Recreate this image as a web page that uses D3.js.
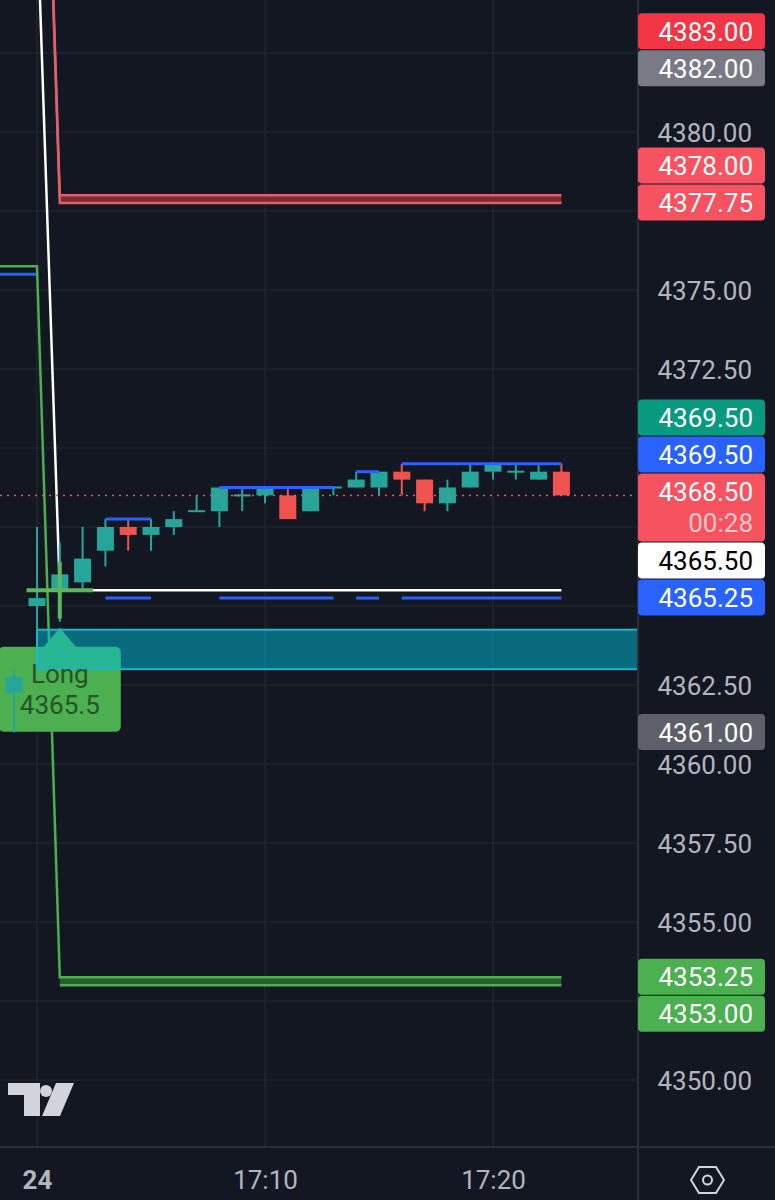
<!DOCTYPE html>
<html>
<head>
<meta charset="utf-8">
<script src="https://cdn.jsdelivr.net/npm/d3@7"></script>
<style>
html, body { margin: 0; padding: 0; background: #131722; }
svg { display: block; font-family: Roboto, "Noto Sans", sans-serif; }
</style>
</head>
<body>
<svg id="chart" width="775" height="1200"></svg>
<script>
// candles, 1 minute
const times  = ["16:59","17:00","17:01","17:02","17:03","17:04","17:05","17:06","17:07","17:08","17:09","17:10","17:11","17:12","17:13","17:14","17:15","17:16","17:17","17:18","17:19","17:20","17:21","17:22","17:23"];
const opens  = [4362.25,4365.0,4365.5,4365.75,4366.75,4367.5,4367.25,4367.5,4368.0,4368.0,4368.5,4368.5,4368.5,4368.0,4368.75,4368.75,4368.75,4369.25,4369.0,4368.25,4368.75,4369.25,4369.25,4369.0,4369.25];
const highs  = [4363.0,4367.5,4367.0,4367.5,4367.75,4367.75,4367.75,4368.0,4368.5,4368.75,4368.75,4368.75,4368.75,4368.75,4368.75,4369.25,4369.25,4369.5,4369.0,4369.0,4369.5,4369.5,4369.5,4369.5,4369.5];
const lows   = [4361.0,4364.25,4364.5,4365.5,4366.25,4366.75,4366.75,4367.25,4368.0,4367.5,4368.0,4368.25,4367.75,4368.0,4368.5,4368.75,4368.5,4368.5,4368.0,4368.0,4368.75,4369.0,4369.0,4369.0,4368.5];
const closes = [4362.75,4365.25,4366.0,4366.5,4367.5,4367.25,4367.5,4367.75,4368.0,4368.75,4368.5,4368.75,4367.75,4368.75,4368.75,4369.0,4369.25,4369.0,4368.25,4368.75,4369.25,4369.5,4369.25,4369.25,4368.5];

// position tool lines
const whiteTimes = ["17:00","17:01","17:23"];
const whiteVals  = [4387.0,4365.5,4365.5];
const redTimes   = ["17:00","17:01","17:23"];
const redUpper   = [4400.0,4378.0,4378.0];
const redLower   = [4399.75,4377.75,4377.75];
const greenTimes = ["16:50","17:00","17:01","17:23"];
const greenUpper = [4375.75,4375.75,4353.25,4353.25];
const greenLowTimes = ["17:01","17:23"];
const greenLower = [4353.0,4353.0];
const blueLeftTimes = ["16:50","17:00"];
const blueLeftVals  = [4375.5,4375.5];

// range high / low segments
const rangeStarts = ["17:03","17:08","17:14","17:16"];
const rangeEnds   = ["17:05","17:13","17:15","17:23"];
const rangeHighs  = [4367.75,4368.75,4369.25,4369.5];
const rangeLows   = [4365.25,4365.25,4365.25,4365.25];

// entry, zone, last price
const entryTime = "17:01", entryPrice = 4365.5, entrySide = "Long";
const zoneStart = "17:00", zoneTop = 4364.25, zoneBottom = 4363.0;
const lastPrice = 4368.5, countdown = "00:28";

// price axis tags, in placement order
const tagValues = [4382.00,4383.00,4377.75,4378.00,4365.25,4365.50,4368.50,4369.50,4369.50,4361.00,4353.25,4353.00];
const tagColors = ["#787b86","#f23645","#f7525f","#f7525f","#2962ff","#ffffff","#f7525f","#2962ff","#089981","#5d606b","#4caf50","#4caf50"];
const tagText   = ["#fff","#fff","#fff","#fff","#fff","#000","#fff","#fff","#fff","#fff","#fff","#fff"];
const tagSub    = ["","","","","","",countdown,"","","","",""];

const priceTicks = [4350,4352.5,4355,4357.5,4360,4362.5,4365,4367.5,4370,4372.5,4375,4377.5,4380,4382.5];
const timeTicks  = ["17:00","17:10","17:20"];
const timeLabels = ["24","17:10","17:20"];

const W = 775, H = 1200, plotW = 638, plotH = 1147;
const parse = d3.timeParse("%H:%M");
const x = d3.scaleTime().domain([parse("17:00"), parse("17:10")]).range([37, 265]);
const y = d3.scaleLinear().domain([4350, 4380]).range([1080, 132]);
const bodyW = 17;
const fs = 26;

const svg = d3.select("#chart");
svg.append("rect").attr("width", W).attr("height", H).attr("fill", "#131722");

svg.append("defs").append("clipPath").attr("id", "plot")
   .append("rect").attr("width", plotW).attr("height", plotH);

const plot = svg.append("g").attr("clip-path", "url(#plot)");

// grid
plot.append("g").selectAll("line").data(priceTicks).join("line")
    .attr("x1", 0).attr("x2", plotW)
    .attr("y1", d => y(d)).attr("y2", d => y(d))
    .attr("stroke", "#21252f").attr("stroke-width", 1.5);
plot.append("g").selectAll("line").data(timeTicks).join("line")
    .attr("x1", d => x(parse(d))).attr("x2", d => x(parse(d)))
    .attr("y1", 0).attr("y2", plotH)
    .attr("stroke", "#21252f").attr("stroke-width", 1.5);

const pts = (ts, vs) => ts.map((t, i) => [x(parse(t)), y(vs[i])]);
const line = d3.line();

// band fills
const bandArea = d3.area().x(d => x(parse(d.t))).y0(d => y(d.a)).y1(d => y(d.b));
plot.append("path")
    .attr("d", bandArea(redTimes.slice(1).map((t, i) => ({t, a: redUpper[i + 1], b: redLower[i + 1]}))))
    .attr("fill", "#7a2c34");
plot.append("path")
    .attr("d", bandArea(greenLowTimes.map((t, i) => ({t, a: greenUpper[i + 2], b: greenLower[i]}))))
    .attr("fill", "#2c5a31");

plot.append("path").attr("d", line(pts(blueLeftTimes, blueLeftVals)))
    .attr("fill", "none").attr("stroke", "#2962ff").attr("stroke-width", 3);
plot.append("path").attr("d", line(pts(greenTimes, greenUpper)))
    .attr("fill", "none").attr("stroke", "#4caf50").attr("stroke-width", 2.5);
plot.append("path").attr("d", line(pts(greenLowTimes, greenLower)))
    .attr("fill", "none").attr("stroke", "#4caf50").attr("stroke-width", 2.5);
plot.append("path").attr("d", line(pts(redTimes, redUpper)))
    .attr("fill", "none").attr("stroke", "#e0606a").attr("stroke-width", 2.5);
plot.append("path").attr("d", line(pts(redTimes, redLower)))
    .attr("fill", "none").attr("stroke", "#e0606a").attr("stroke-width", 2.5);
plot.append("path").attr("d", line(pts(whiteTimes, whiteVals)))
    .attr("fill", "none").attr("stroke", "#ffffff").attr("stroke-width", 2.5);

// Long label body
const ex = x(parse(entryTime));
const labTop = y(zoneTop) + 17;
const lab = plot.append("g");
lab.append("path")
   .attr("d", `M${ex},${y(zoneTop) - 2}L${ex + 17},${labTop + 1}L${ex - 17},${labTop + 1}Z`)
   .attr("fill", "#4caf50");
lab.append("rect").attr("x", ex - 61).attr("y", labTop).attr("width", 122).attr("height", 85)
   .attr("rx", 5).attr("fill", "#4caf50");

// zone box
const zx = x(parse(zoneStart));
plot.append("rect").attr("x", zx).attr("y", y(zoneTop)).attr("width", plotW - zx)
    .attr("height", y(zoneBottom) - y(zoneTop))
    .attr("fill", "rgba(0,190,215,0.5)").attr("stroke", "#1fb5c8").attr("stroke-width", 2);

// Long label text, above the zone
plot.append("text").attr("x", ex).attr("y", labTop + 27).attr("text-anchor", "middle")
   .attr("dominant-baseline", "central").attr("font-size", fs).attr("fill", "#245428")
   .text(entrySide);
plot.append("text").attr("x", ex).attr("y", labTop + 58).attr("text-anchor", "middle")
   .attr("dominant-baseline", "central").attr("font-size", fs).attr("fill", "#245428")
   .text(entryPrice.toFixed(1));

// candles
const bars = times.map((t, i) => ({t: parse(t), o: opens[i], h: highs[i], l: lows[i], c: closes[i]}));
const col = d => d.c >= d.o ? "#26a69a" : "#ef5350";
const cg = plot.append("g").selectAll("g").data(bars).join("g");
cg.append("line")
  .attr("x1", d => x(d.t)).attr("x2", d => x(d.t))
  .attr("y1", d => y(d.h)).attr("y2", d => y(d.l))
  .attr("stroke", col).attr("stroke-width", 2);
cg.append("rect")
  .attr("x", d => x(d.t) - bodyW / 2).attr("width", bodyW)
  .attr("y", d => y(Math.max(d.o, d.c)) - (d.o === d.c ? 1 : 0))
  .attr("height", d => Math.max(2, Math.abs(y(d.o) - y(d.c))))
  .attr("fill", col);

// range high/low segments
const rg = plot.append("g");
rangeStarts.forEach((s, i) => {
  const x1 = x(parse(s)), x2 = x(parse(rangeEnds[i]));
  rg.append("line").attr("x1", x1).attr("x2", x2).attr("y1", y(rangeHighs[i])).attr("y2", y(rangeHighs[i]))
    .attr("stroke", "#2962ff").attr("stroke-width", 3);
  rg.append("line").attr("x1", x1).attr("x2", x2).attr("y1", y(rangeLows[i])).attr("y2", y(rangeLows[i]))
    .attr("stroke", "#2962ff").attr("stroke-width", 3);
});

// entry marker
const step = x(parse("17:01")) - x(parse("17:00"));
plot.append("line").attr("x1", ex - step - bodyW / 2 - 2).attr("x2", ex + step + bodyW / 2 + 2)
    .attr("y1", y(entryPrice)).attr("y2", y(entryPrice))
    .attr("stroke", "#5cb85c").attr("stroke-width", 4);
plot.append("line").attr("x1", ex).attr("x2", ex)
    .attr("y1", y(entryPrice + 0.9)).attr("y2", y(entryPrice - 0.9))
    .attr("stroke", "#5cb85c").attr("stroke-width", 4);

// last price dotted
plot.append("line").attr("x1", 0).attr("x2", plotW).attr("y1", y(lastPrice)).attr("y2", y(lastPrice))
    .attr("stroke", "#f7525f").attr("stroke-width", 1.5).attr("stroke-dasharray", "2,5");

// logo
const logo = svg.append("g").attr("fill", "#d1d4dc");
logo.append("path").attr("d", "M8,1083H40V1116H24V1095H8Z");
logo.append("circle").attr("cx", 46).attr("cy", 1091).attr("r", 6);
logo.append("path").attr("d", "M56,1083H74L60,1116H42Z");

// separators
svg.append("line").attr("x1", plotW).attr("x2", plotW).attr("y1", 0).attr("y2", H)
   .attr("stroke", "#2a2e39").attr("stroke-width", 2);
svg.append("line").attr("x1", 0).attr("x2", W).attr("y1", plotH).attr("y2", plotH)
   .attr("stroke", "#2a2e39").attr("stroke-width", 2);

// price tags: place in order, push off earlier ones
const tagH = 37;
const placed = [];
const conflict = (t, h) => placed.find(p => t < p.bottom && t + h > p.top);
const tags = tagValues.map((v, i) => {
  const h = tagSub[i] ? 69 : tagH;
  const want = y(v) - tagH / 2;
  let up = want, c;
  while ((c = conflict(up, h))) up = c.top - h;
  let down = want;
  while ((c = conflict(down, h))) down = c.bottom;
  const top = Math.abs(up - want) <= Math.abs(down - want) ? up : down;
  placed.push({top, bottom: top + h});
  return {v, top, h, color: tagColors[i], text: tagText[i], sub: tagSub[i]};
});

// price axis ticks
const axisG = svg.append("g").attr("transform", `translate(${plotW},0)`)
  .call(d3.axisRight(y).tickValues(priceTicks).tickFormat(d3.format(".2f")).tickSize(0));
axisG.select(".domain").remove();
axisG.selectAll("text")
  .attr("x", 114).attr("dy", "0.35em").attr("text-anchor", "end")
  .attr("font-size", fs).attr("font-family", "Roboto").attr("fill", "#b2b5be")
  .style("display", d => placed.some(p => y(d) > p.top - 10 && y(d) < p.bottom + 10) ? "none" : null);

const tg = svg.append("g").selectAll("g").data(tags).join("g");
tg.append("rect").attr("x", plotW).attr("y", d => d.top).attr("width", 127).attr("height", d => d.h - 1)
  .attr("rx", 4).attr("fill", d => d.color);
tg.append("text").attr("x", 753).attr("y", d => d.top + tagH / 2).attr("dy", "0.35em")
  .attr("text-anchor", "end").attr("font-size", fs).attr("fill", d => d.text)
  .text(d => d.v.toFixed(2));
tg.filter(d => d.sub).append("text").attr("x", 753).attr("y", d => d.top + tagH / 2 + 31).attr("dy", "0.35em")
  .attr("text-anchor", "end").attr("font-size", fs).attr("fill", "rgba(255,255,255,0.7)")
  .text(d => d.sub);

// time axis
const tAxis = svg.append("g").attr("transform", `translate(0,${plotH})`)
  .call(d3.axisBottom(x).tickValues(timeTicks.map(parse)).tickFormat((d, i) => timeLabels[i]).tickSize(0));
tAxis.select(".domain").remove();
tAxis.selectAll("text").attr("y", 33).attr("dy", "0.35em")
  .attr("font-size", fs).attr("font-family", "Roboto").attr("fill", "#b2b5be")
  .attr("font-weight", (d, i) => i === 0 ? "bold" : null);

// settings icon
const ic = svg.append("g").attr("fill", "none").attr("stroke", "#d1d4dc").attr("stroke-width", 2);
ic.append("path").attr("d", "M691,1180L699,1167H716L724,1180L716,1193H699Z");
ic.append("circle").attr("cx", 707.5).attr("cy", 1180).attr("r", 4.5);
</script>
</body>
</html>
